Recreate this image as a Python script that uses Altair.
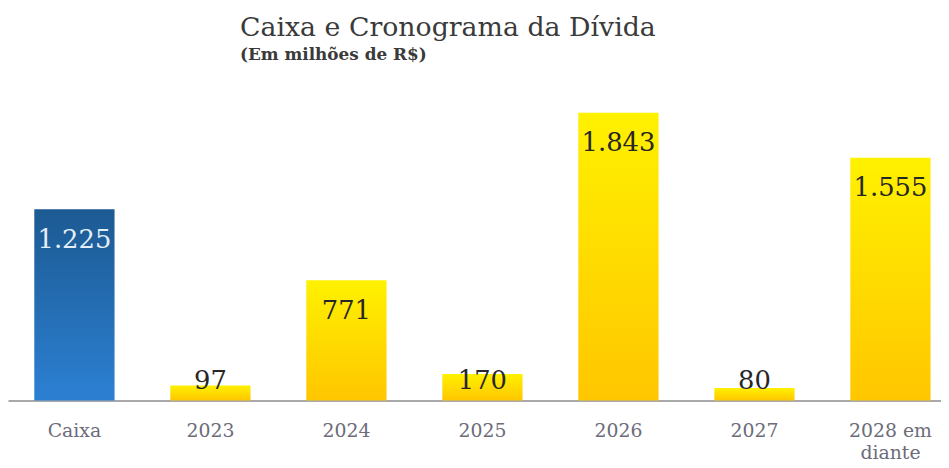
import altair as alt
import pandas as pd

categorias = ["Caixa", "2023", "2024", "2025", "2026", "2027", "2028 em diante"]
valores = [1225, 97, 771, 170, 1843, 80, 1555]
rotulos = ["1.225", "97", "771", "170", "1.843", "80", "1.555"]

df = pd.DataFrame({"categoria": categorias, "valor": valores, "rotulo": rotulos})

FONT = "DejaVu Serif"

x = alt.X(
    "categoria:N",
    sort=categorias,
    scale=alt.Scale(paddingInner=0.41, paddingOuter=0.135, align=0.716),
    axis=alt.Axis(
        title=None,
        labelAngle=0,
        ticks=False,
        domainColor="#8c8c8c",
        domainWidth=1.5,
        labelFont=FONT,
        labelFontSize=19,
        labelColor="#6c6c7a",
        labelPadding=21,
        labelLineHeight=22,
        labelExpr="datum.value == '2028 em diante' ? ['2028 em', 'diante'] : datum.label",
    ),
)
y_scale = alt.Scale(domain=[0, 2000], nice=False)

base = alt.Chart(df)

blue = alt.Gradient(
    gradient="linear",
    stops=[alt.GradientStop(color="#1c5a92", offset=0), alt.GradientStop(color="#2c80d3", offset=1)],
    x1=0, x2=0, y1=0, y2=1,
)
yellow = alt.Gradient(
    gradient="linear",
    stops=[alt.GradientStop(color="#fff100", offset=0), alt.GradientStop(color="#ffc600", offset=1)],
    x1=0, x2=0, y1=0, y2=1,
)

bars_caixa = base.transform_filter("datum.categoria == 'Caixa'").mark_bar(color=blue).encode(
    x=x, y=alt.Y("valor:Q", scale=y_scale, axis=None)
)
bars_div = base.transform_filter("datum.categoria != 'Caixa'").mark_bar(color=yellow).encode(
    x=x, y=alt.Y("valor:Q", scale=y_scale, axis=None)
)

label_color = alt.condition("datum.categoria == 'Caixa'", alt.value("#e4eef9"), alt.value("#262626"))

tall = base.transform_filter("datum.valor > 300").mark_text(
    baseline="middle", dy=31, font=FONT, fontSize=26
).encode(x=x, y=alt.Y("valor:Q", scale=y_scale, axis=None), text="rotulo:N", color=label_color)

short = base.transform_filter("datum.valor <= 300").transform_calculate(zero="0").mark_text(
    baseline="middle", dy=-20, font=FONT, fontSize=26
).encode(x=x, y=alt.Y("zero:Q", scale=y_scale, axis=None), text="rotulo:N", color=label_color)

chart = alt.layer(bars_caixa, bars_div, tall, short).properties(
    width=941,
    height=315,
    padding={"left": 0, "top": 79, "right": 0, "bottom": 60},
    autosize=alt.AutoSizeParams(type="none"),
    background="white",
    title=alt.TitleParams(
        text="Caixa e Cronograma da Dívida",
        subtitle="(Em milhões de R$)",
        anchor="start",
        frame="group",
        dx=234,
        offset=24,
        font=FONT,
        fontSize=27,
        fontWeight="normal",
        color="#3a3a3a",
        subtitleFont=FONT,
        subtitleFontSize=17,
        subtitleFontWeight="bold",
        subtitleColor="#3a3a3a",
        subtitlePadding=6,
    ),
).configure_view(stroke=None)

chart.save("out.html", embed_options={"renderer": "svg", "actions": False})
